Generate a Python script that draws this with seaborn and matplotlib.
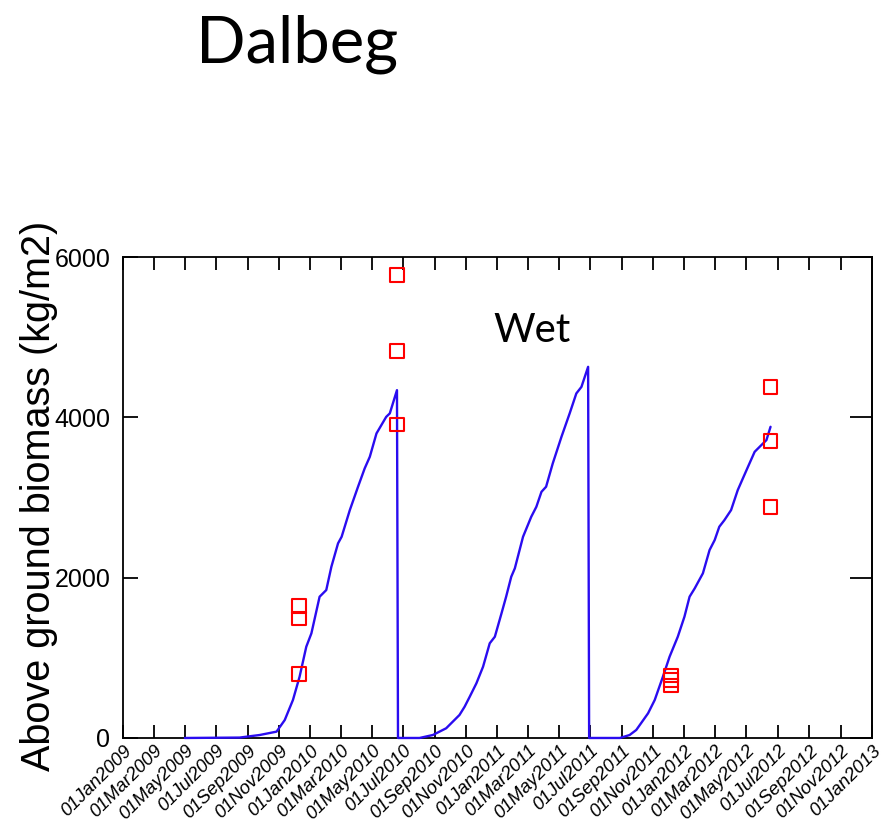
import matplotlib
matplotlib.use("Agg")
import matplotlib.pyplot as plt
import matplotlib.transforms as mtransforms
import pandas as pd
import seaborn as sns

sns.set_theme(style="white")
plt.rcParams["font.family"] = ["Liberation Sans", "DejaVu Sans"]
plt.rcParams["text.color"] = "black"
plt.rcParams["xtick.color"] = "black"
plt.rcParams["ytick.color"] = "black"
plt.rcParams["xtick.labelcolor"] = "black"
plt.rcParams["ytick.labelcolor"] = "black"

# Simulated above-ground biomass, three cane seasons (kg/m2)
model_dates = [
    "2009-05-01", "2009-08-16", "2009-09-24", "2009-10-27", "2009-11-12",
    "2009-11-28", "2009-12-11", "2009-12-24", "2010-01-03", "2010-01-19",
    "2010-02-01", "2010-02-11", "2010-02-24", "2010-03-03", "2010-03-19",
    "2010-04-04", "2010-04-17", "2010-04-27", "2010-05-10", "2010-05-29",
    "2010-06-05", "2010-06-19", "2010-06-21", "2010-08-02", "2010-08-28",
    "2010-09-23", "2010-10-19", "2010-10-29", "2010-11-08", "2010-11-21",
    "2010-12-04", "2010-12-17", "2010-12-27", "2011-01-09", "2011-01-18",
    "2011-01-28", "2011-02-04", "2011-02-20", "2011-03-08", "2011-03-18",
    "2011-03-28", "2011-04-06", "2011-04-19", "2011-05-06", "2011-05-22",
    "2011-06-04", "2011-06-14", "2011-06-27", "2011-06-29", "2011-08-28",
    "2011-09-16", "2011-09-29", "2011-10-22", "2011-11-04", "2011-11-20",
    "2011-12-03", "2011-12-19", "2012-01-01", "2012-01-11", "2012-01-21",
    "2012-02-06", "2012-02-19", "2012-02-29", "2012-03-09", "2012-03-19",
    "2012-04-01", "2012-04-14", "2012-04-24", "2012-05-04", "2012-05-17",
    "2012-05-30", "2012-06-09", "2012-06-17",
]
model_biomass = [
    0, 5, 37, 79, 224,
    474, 765, 1138, 1305, 1762,
    1845, 2136, 2428, 2510, 2843,
    3134, 3363, 3508, 3799, 4006,
    4049, 4339, 0, 0, 37,
    121, 287, 390, 515, 682,
    889, 1181, 1263, 1555, 1762,
    2011, 2116, 2510, 2759, 2884,
    3071, 3134, 3425, 3757, 4049,
    4298, 4380, 4630, 0, 0,
    37, 100, 308, 474, 765,
    1014, 1263, 1513, 1762, 1866,
    2054, 2344, 2469, 2635, 2718,
    2843, 3092, 3238, 3383, 3570,
    3653, 3716, 3882,
]

# Field samples (kg/m2)
obs_dates = [
    "2009-12-09", "2009-12-09", "2009-12-09",
    "2010-06-19", "2010-06-19", "2010-06-19",
    "2011-12-05", "2011-12-05", "2011-12-05",
    "2012-06-17", "2012-06-17", "2012-06-17",
]
obs_biomass = [
    1650, 1490, 800,
    5770, 4830, 3910,
    780, 718, 655,
    4380, 3700, 2885,
]

x_ticks = pd.date_range("2009-01-01", "2013-01-01", freq="2MS")
x_tick_labels = [d.strftime("%d%b%Y") for d in x_ticks]
y_ticks = [0, 2000, 4000, 6000]

model = pd.DataFrame({"date": pd.to_datetime(model_dates), "biomass": model_biomass})
obs = pd.DataFrame({"date": pd.to_datetime(obs_dates), "biomass": obs_biomass})

fig = plt.figure(figsize=(8.86, 8.24), dpi=100)
ax = fig.add_axes([0.1392, 0.1044, 0.8450, 0.5837])
ax.set_facecolor("white")

sns.lineplot(data=model, x="date", y="biomass", estimator=None, sort=False,
             color="#2a0cf0", linewidth=1.7, ax=ax)
line = ax.lines[-1]
line.set_zorder(3)
line.set_clip_on(False)

sns.scatterplot(data=obs, x="date", y="biomass", marker="s", s=100,
                color="red", ax=ax, zorder=4)
pts = ax.collections[-1]
pts.set_facecolor("none")
pts.set_edgecolor("red")
pts.set_linewidth(1.5)
pts.set_clip_on(False)

ax.set_xlim(pd.Timestamp("2009-01-01"), pd.Timestamp("2013-01-01"))
ax.set_ylim(0, 6000)

ax.set_xticks(x_ticks)
ax.set_xticklabels(x_tick_labels, rotation=45, ha="right", va="top",
                   rotation_mode="anchor", fontsize=13.5, style="italic",
                   color="black")
shift = mtransforms.ScaledTranslation(11 / 100, 1 / 100, fig.dpi_scale_trans)
for lbl in ax.get_xticklabels():
    lbl.set_transform(lbl.get_transform() + shift)

ax.set_yticks(y_ticks)
ax.set_yticklabels([str(v) for v in y_ticks], fontsize=18, color="black")

ax.tick_params(axis="x", which="major", direction="in", top=True, bottom=True,
               length=9.4, width=1.3, color="black", pad=3)
ax.tick_params(axis="y", which="major", direction="in", left=True, right=False,
               length=10.8, width=1.3, color="black", pad=9.4)

right = ax.secondary_yaxis("right")
right.set_yticks(y_ticks)
right.tick_params(axis="y", direction="in", length=15.8, width=1.3,
                  color="black", labelright=False)
right.spines["right"].set_linewidth(1.3)
right.spines["right"].set_color("black")

for sp in ax.spines.values():
    sp.set_color("black")
    sp.set_linewidth(1.3)

ax.set_xlabel("")
ax.set_ylabel("Above ground biomass (kg/m2)", fontsize=28.5, color="black")
ax.yaxis.set_label_coords(-0.087, 0.503)

ax.text(pd.Timestamp("2011-03-09"), 4938, "Wet", fontsize=29,
        family=["Lato", "DejaVu Sans"], ha="center", va="baseline", color="black")

fig.text(297.5 / 886, 1 - 62 / 824, "Dalbeg", fontsize=47,
         family=["Lato", "DejaVu Sans"], ha="center", va="baseline", color="black")

fig.savefig("out.png", dpi=100, facecolor="white")
